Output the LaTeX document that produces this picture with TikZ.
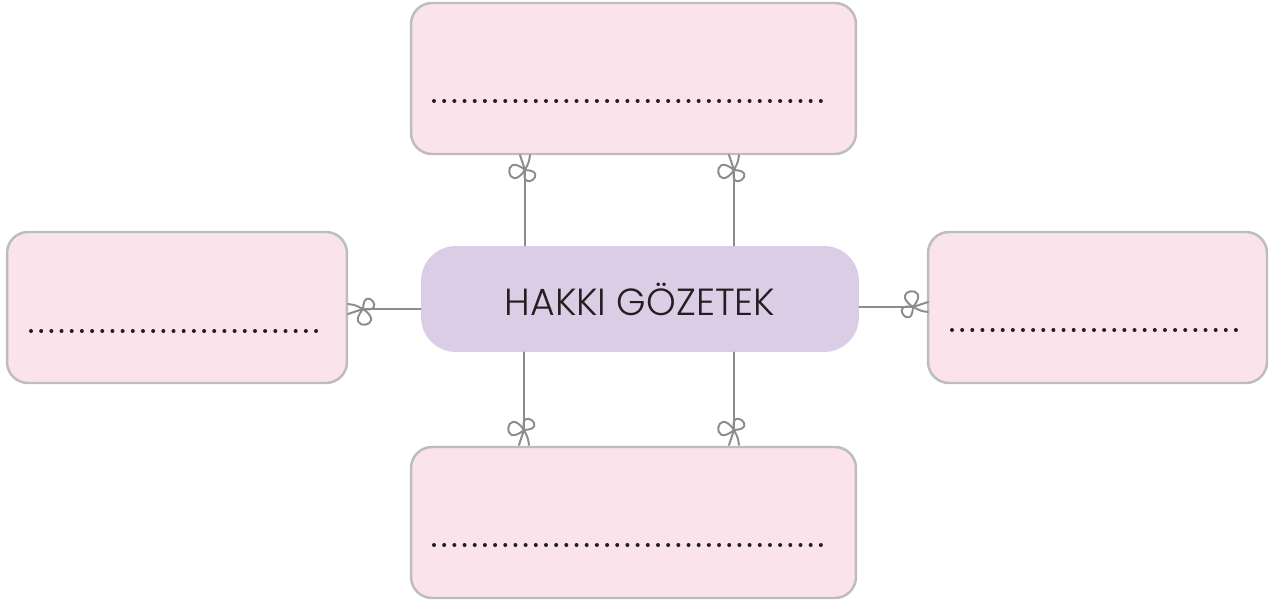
\documentclass[tikz,border=0pt]{standalone}
\usepackage{fontspec}
\setmainfont{Poppins}[UprightFont=* Light]
\usepackage{tikz}
\usetikzlibrary{positioning, calc}
\definecolor{rosa}{HTML}{FAE3EB}
\definecolor{bordo}{HTML}{BDBCBE}
\definecolor{lilla}{HTML}{DCCDE6}
\definecolor{filo}{HTML}{8C8B8D}
\definecolor{testo}{HTML}{231F20}
\tikzset{
  scatola/.style={draw=bordo, fill=rosa, line width=1.4pt, rounded corners=0.42cm,
    minimum height=3.02cm, inner sep=0pt},
  centro/.style={fill=lilla, rounded corners=0.7cm, minimum width=8.76cm,
    minimum height=2.12cm, inner sep=0pt, text=testo,
    font=\fontsize{21.5}{24}\selectfont},
  filo/.style={draw=filo, line width=1.1pt, line cap=round},
  puntino/.style={fill=testo},
  fiocco/.pic={
    \draw[filo] (0,0) .. controls (-24,-20) and (-18,26) .. (0,0);
    \draw[filo] (0,0) .. controls (26,1) and (-5,25) .. (0,0);
    \draw[filo] (-5,-15) .. controls (-3,-8) .. (0,0) .. controls (4,-8) .. (5,-15);
  }
}
\begin{document}
\begin{tikzpicture}[x=0.02cm, y=-0.02cm]
    \useasboundingbox (0,0) rectangle (1271,604);
    % scatole rosa
    \node[scatola, minimum width=8.9cm] (alto) at (633.5,78.5) {};
    \node[scatola, minimum width=8.9cm] (basso) at (633.5,522.5) {};
    \node[scatola, minimum width=6.8cm] (sinistra) at (177,307.5) {};
    \node[scatola, minimum width=6.78cm] (destra) at (1097.5,307.5) {};
    % nodo centrale
    \node[centro] (hakki) at (640,299) {HAKKI GÖZETEK};
    % righe di puntini
    \foreach \i in {0,...,38} {
        \fill[puntino] (434+\i*10.18,101) circle (2);
        \fill[puntino] (434+\i*10.18,545) circle (2);
    }
    \foreach \i in {0,...,28} {
        \fill[puntino] (31+\i*10.18,331) circle (2);
        \fill[puntino] (952+\i*10.14,330) circle (2);
    }
    % nodi dei fiocchi
    \coordinate (fa1) at (525,170);
    \coordinate (fa2) at (734,170);
    \coordinate (fb1) at (524,430);
    \coordinate (fb2) at (734,430);
    \coordinate (fs) at (363,309);
    \coordinate (fd) at (913,307);
    % fili
    \draw[filo] (fa1) -- (fa1 |- hakki.north);
    \draw[filo] (fa2) -- (fa2 |- hakki.north);
    \draw[filo] (fb1) -- (fb1 |- hakki.south);
    \draw[filo] (fb2) -- (fb2 |- hakki.south);
    \draw[filo] (fs) -- (fs -| hakki.west);
    \draw[filo] (fd) -- (fd -| hakki.east);
    % fiocchi
    \pic at (fa1) {fiocco};
    \pic at (fa2) {fiocco};
    \pic[yscale=-1] at (fb1) {fiocco};
    \pic[yscale=-1] at (fb2) {fiocco};
    \pic[rotate=90] at (fs) {fiocco};
    \pic[rotate=-90] at (fd) {fiocco};
\end{tikzpicture}
\end{document}
